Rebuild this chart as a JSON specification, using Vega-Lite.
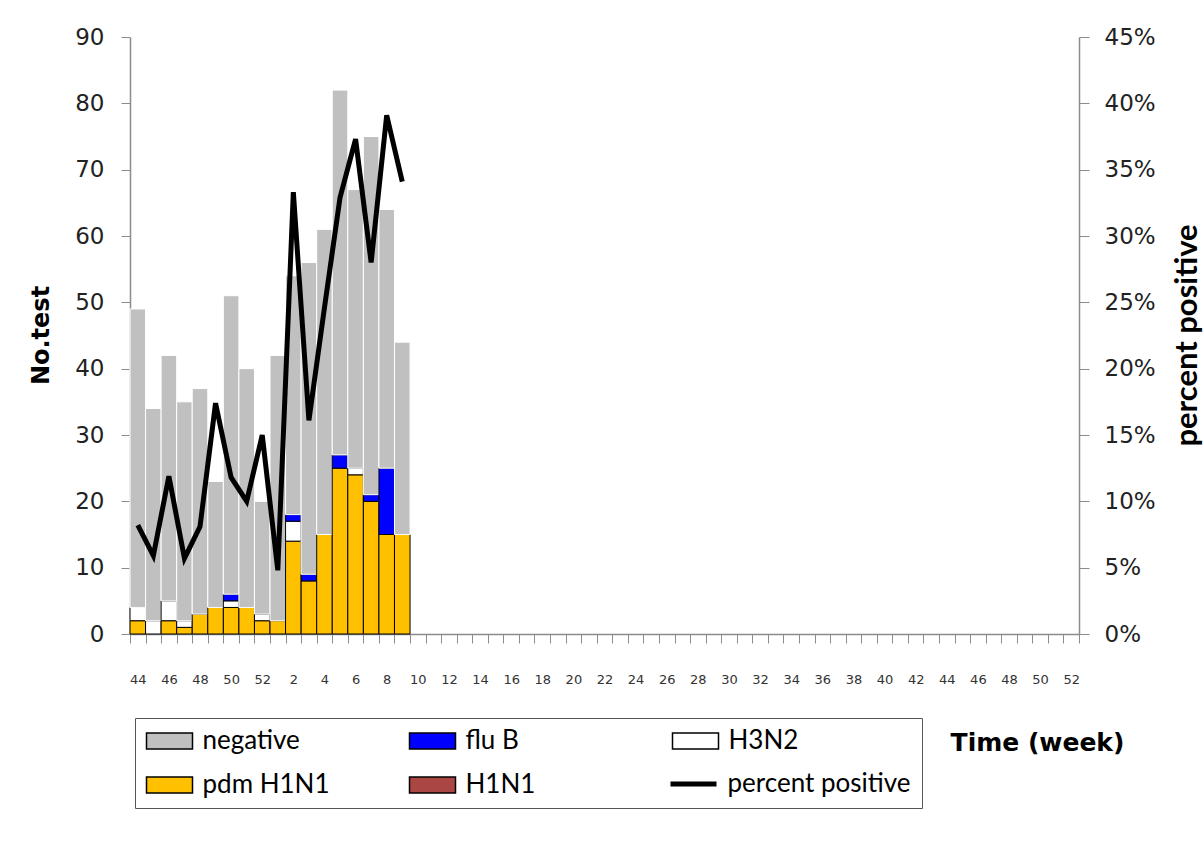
{
  "$schema": "https://vega.github.io/schema/vega-lite/v6.json",
  "autosize": {"type": "none"},
  "padding": {"left": 130, "top": 37, "right": 124, "bottom": 212},
  "width": 949,
  "height": 597,
  "background": "white",
  "config": {
    "view": {"stroke": null},
    "axis": {"domainColor": "#8c8c8c", "tickColor": "#8c8c8c", "grid": false, "labelColor": "#222222", "titleColor": "#000000"}
  },
  "datasets": {
    "tests": [
      {"wk": "2009-44", "type": "pdm H1N1", "n": 2}, {"wk": "2009-44", "type": "H3N2", "n": 2}, {"wk": "2009-44", "type": "negative", "n": 45},
      {"wk": "2009-45", "type": "H3N2", "n": 2}, {"wk": "2009-45", "type": "negative", "n": 32},
      {"wk": "2009-46", "type": "pdm H1N1", "n": 2}, {"wk": "2009-46", "type": "H3N2", "n": 3}, {"wk": "2009-46", "type": "negative", "n": 37},
      {"wk": "2009-47", "type": "pdm H1N1", "n": 1}, {"wk": "2009-47", "type": "H3N2", "n": 1}, {"wk": "2009-47", "type": "negative", "n": 33},
      {"wk": "2009-48", "type": "pdm H1N1", "n": 3}, {"wk": "2009-48", "type": "negative", "n": 34},
      {"wk": "2009-49", "type": "pdm H1N1", "n": 4}, {"wk": "2009-49", "type": "negative", "n": 19},
      {"wk": "2009-50", "type": "pdm H1N1", "n": 4}, {"wk": "2009-50", "type": "H3N2", "n": 1}, {"wk": "2009-50", "type": "flu B", "n": 1}, {"wk": "2009-50", "type": "negative", "n": 45},
      {"wk": "2009-51", "type": "pdm H1N1", "n": 4}, {"wk": "2009-51", "type": "negative", "n": 36},
      {"wk": "2009-52", "type": "pdm H1N1", "n": 2}, {"wk": "2009-52", "type": "H3N2", "n": 1}, {"wk": "2009-52", "type": "negative", "n": 17},
      {"wk": "2010-1", "type": "pdm H1N1", "n": 2}, {"wk": "2010-1", "type": "negative", "n": 40},
      {"wk": "2010-2", "type": "pdm H1N1", "n": 14}, {"wk": "2010-2", "type": "H3N2", "n": 3}, {"wk": "2010-2", "type": "flu B", "n": 1}, {"wk": "2010-2", "type": "negative", "n": 36},
      {"wk": "2010-3", "type": "pdm H1N1", "n": 8}, {"wk": "2010-3", "type": "flu B", "n": 1}, {"wk": "2010-3", "type": "negative", "n": 47},
      {"wk": "2010-4", "type": "pdm H1N1", "n": 15}, {"wk": "2010-4", "type": "negative", "n": 46},
      {"wk": "2010-5", "type": "pdm H1N1", "n": 25}, {"wk": "2010-5", "type": "flu B", "n": 2}, {"wk": "2010-5", "type": "negative", "n": 55},
      {"wk": "2010-6", "type": "pdm H1N1", "n": 24}, {"wk": "2010-6", "type": "H3N2", "n": 1}, {"wk": "2010-6", "type": "negative", "n": 42},
      {"wk": "2010-7", "type": "pdm H1N1", "n": 20}, {"wk": "2010-7", "type": "flu B", "n": 1}, {"wk": "2010-7", "type": "negative", "n": 54},
      {"wk": "2010-8", "type": "pdm H1N1", "n": 15}, {"wk": "2010-8", "type": "flu B", "n": 10}, {"wk": "2010-8", "type": "negative", "n": 39},
      {"wk": "2010-9", "type": "pdm H1N1", "n": 15}, {"wk": "2010-9", "type": "negative", "n": 29}
    ],
    "pct": [
      {"wk": "2009-44", "pct": 0.082}, {"wk": "2009-45", "pct": 0.059}, {"wk": "2009-46", "pct": 0.119},
      {"wk": "2009-47", "pct": 0.057}, {"wk": "2009-48", "pct": 0.081}, {"wk": "2009-49", "pct": 0.174},
      {"wk": "2009-50", "pct": 0.118}, {"wk": "2009-51", "pct": 0.100}, {"wk": "2009-52", "pct": 0.150},
      {"wk": "2010-1", "pct": 0.048}, {"wk": "2010-2", "pct": 0.333}, {"wk": "2010-3", "pct": 0.161},
      {"wk": "2010-4", "pct": 0.246}, {"wk": "2010-5", "pct": 0.329}, {"wk": "2010-6", "pct": 0.373},
      {"wk": "2010-7", "pct": 0.280}, {"wk": "2010-8", "pct": 0.391}, {"wk": "2010-9", "pct": 0.341}
    ]
  },
  "layer": [
    {
      "data": {"name": "tests"},
      "transform": [
        {"calculate": "indexof(['pdm H1N1','H1N1','H3N2','flu B','negative'], datum.type)", "as": "ord"}
      ],
      "mark": {"type": "bar", "strokeWidth": 1},
      "encoding": {
        "x": {
          "field": "wk", "type": "ordinal",
          "scale": {
            "domain": ["2009-44","2009-45","2009-46","2009-47","2009-48","2009-49","2009-50","2009-51","2009-52",
              "2010-1","2010-2","2010-3","2010-4","2010-5","2010-6","2010-7","2010-8","2010-9","2010-10",
              "2010-11","2010-12","2010-13","2010-14","2010-15","2010-16","2010-17","2010-18","2010-19","2010-20",
              "2010-21","2010-22","2010-23","2010-24","2010-25","2010-26","2010-27","2010-28","2010-29","2010-30",
              "2010-31","2010-32","2010-33","2010-34","2010-35","2010-36","2010-37","2010-38","2010-39","2010-40",
              "2010-41","2010-42","2010-43","2010-44","2010-45","2010-46","2010-47","2010-48","2010-49","2010-50",
              "2010-51","2010-52"],
            "paddingInner": 0, "paddingOuter": 0
          },
          "axis": {
            "title": "Time (week)",
            "titleFont": "DejaVu Sans", "titleFontSize": 25, "titleFontWeight": "bold",
            "titleX": 907, "titleY": 108, "titleAlign": "center", "titleBaseline": "middle", "titleAnchor": null,
            "labelExpr": "toNumber(split(datum.value,'-')[1]) % 2 === 0 ? split(datum.value,'-')[1] : ''",
            "labelAngle": 0, "labelFont": "DejaVu Sans", "labelFontSize": 13, "labelColor": "#333333",
            "labelPadding": 30, "labelBaseline": "top", "labelOverlap": false,
            "tickBand": "extent", "tickSize": 9, "domainWidth": 1.5
          }
        },
        "y": {
          "aggregate": "sum", "field": "n", "type": "quantitative",
          "scale": {"domain": [0, 90], "nice": false},
          "axis": {
            "orient": "left", "values": [0,10,20,30,40,50,60,70,80,90],
            "title": "No.test", "titleFont": "DejaVu Sans", "titleFontSize": 24, "titleFontWeight": "bold",
            "titleX": -89, "titleY": 298, "titleAngle": 270, "titleAlign": "center", "titleBaseline": "middle",
            "labelFont": "DejaVu Sans", "labelFontSize": 23, "labelPadding": 17, "tickSize": 9, "domainWidth": 1.5
          }
        },
        "color": {
          "field": "type", "type": "nominal",
          "scale": {
            "domain": ["negative", "flu B", "H3N2", "pdm H1N1", "H1N1", "percent positive"],
            "range": ["#C0C0C0", "#0000FF", "#FFFFFF", "#FFC000", "#AA4643", "#000000"]
          },
          "legend": {
            "title": null, "orient": "none", "legendX": 5, "legendY": 681,
            "direction": "horizontal", "columns": 3, "gridAlign": "all",
            "columnPadding": 20, "rowPadding": 18, "padding": 10,
            "strokeColor": "#555555", "fillColor": "white",
            "symbolType": "M-2,-0.7H2V0.7H-2Z", "symbolSize": 529, "symbolOffset": 11.5, "symbolOpacity": 1,
            "labelFont": "Lato", "labelFontSize": 26, "labelColor": "#000000", "labelOffset": 20, "labelLimit": 400
          }
        },
        "stroke": {
          "condition": {"test": "datum.type === 'negative'", "value": "#FFFFFF"},
          "value": "#000000"
        },
        "order": {"field": "ord", "type": "quantitative", "sort": "ascending"}
      }
    },
    {
      "data": {"name": "pct"},
      "mark": {"type": "line", "strokeWidth": 5},
      "encoding": {
        "x": {"field": "wk", "type": "ordinal"},
        "y": {
          "field": "pct", "type": "quantitative",
          "scale": {"domain": [0, 0.45], "nice": false},
          "axis": {
            "orient": "right", "values": [0,0.05,0.1,0.15,0.2,0.25,0.3,0.35,0.4,0.45], "format": ".0%",
            "title": "percent positive", "titleFont": "Lato", "titleFontSize": 31, "titleFontWeight": "bold",
            "titleX": 108, "titleY": 298, "titleAngle": 270, "titleAlign": "center", "titleBaseline": "middle",
            "labelFont": "DejaVu Sans", "labelFontSize": 23, "labelPadding": 15, "tickSize": 10, "domainWidth": 1.5
          }
        },
        "stroke": {
          "datum": "percent positive", "type": "nominal",
          "scale": {"domain": ["percent positive"], "range": ["#000000"]},
          "legend": {
            "title": null, "orient": "none", "legendX": 536, "legendY": 731,
            "padding": 2, "fillColor": "white", "strokeColor": null,
            "symbolType": "M-2,0H2", "symbolSize": 529, "symbolOffset": 11.5, "symbolStrokeWidth": 5,
            "labelFont": "Lato", "labelFontSize": 26, "labelColor": "#000000", "labelOffset": 20, "labelLimit": 400
          }
        }
      }
    }
  ],
  "resolve": {"scale": {"y": "independent"}}
}
